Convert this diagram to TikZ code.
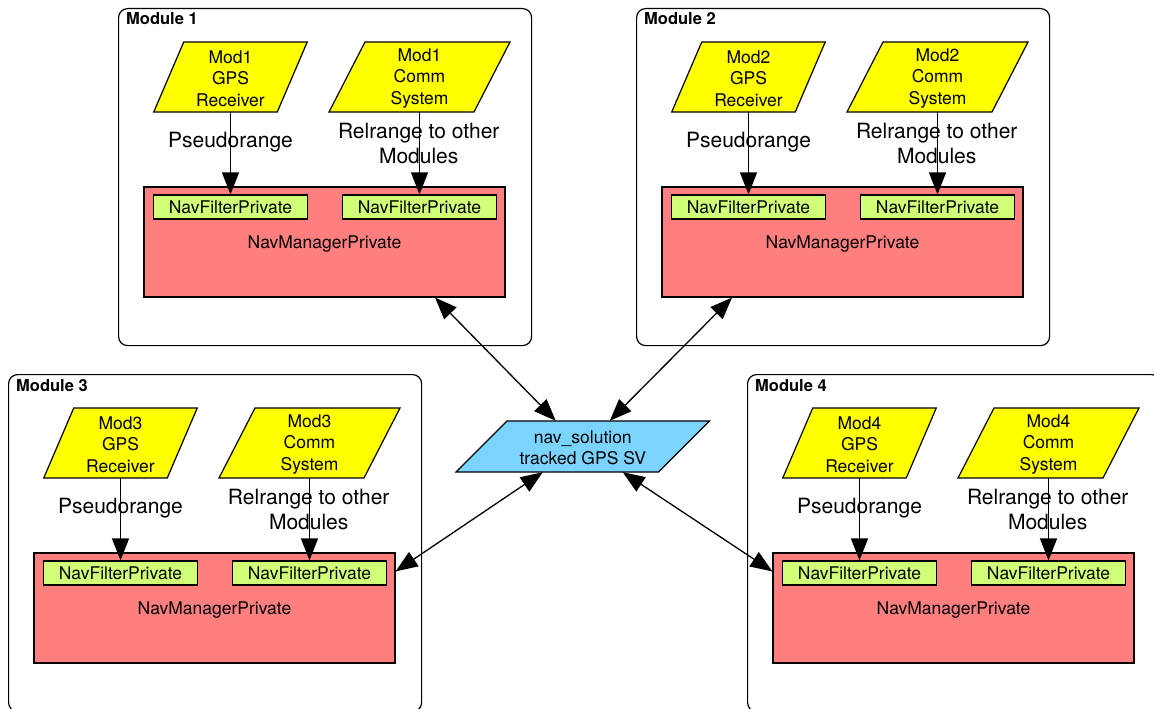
\documentclass[tikz,border=0pt]{standalone}
\usepackage{fontspec}
\setmainfont{TeX Gyre Heros}
\usetikzlibrary{arrows.meta,calc}

\definecolor{gpsyellow}{HTML}{FFFF00}
\definecolor{mgrred}{HTML}{FF7F7F}
\definecolor{filtgreen}{HTML}{D2FF78}
\definecolor{solblue}{HTML}{7AD4FF}

\tikzset{
  frame/.style={draw=black, line width=1.2pt, rounded corners=9pt,
    minimum width=413pt, minimum height=337pt, inner sep=0pt, anchor=north west},
  modtitle/.style={font=\fontsize{16.5}{19}\selectfont\bfseries, anchor=base west, inner sep=0pt},
  txt/.style={font=\fontsize{17.5}{21.5}\selectfont, align=center, inner sep=0pt},
  lbl/.style={font=\fontsize{21}{25}\selectfont, align=center, inner sep=0pt},
  mgr/.style={txt, draw, line width=1.2pt, fill=mgrred, minimum width=361pt, minimum height=110pt,
    text depth=0pt},
  filt/.style={txt, draw, line width=1.2pt, fill=filtgreen, minimum width=154pt, minimum height=24pt},
  flow/.style={line width=1.3pt, -{Triangle[length=22pt,width=17pt]}},
  link/.style={line width=1.3pt, {Triangle[length=22pt,width=17pt]}-{Triangle[length=22pt,width=17pt]}},
  parashape/.style={draw, line width=1.2pt},
}

% parallelogram: name, centre x, centre y, mid width, height, slant, fill, text
% (the text node sits 1.5pt low; its south side stays on the bottom edge,
%  its north side lies 3pt below the top edge)
\newcommand\paranode[8]{%
  \filldraw[parashape, fill=#7]
    (#2-#4/2-#6/2, #3+#5/2) -- (#2+#4/2-#6/2, #3+#5/2) --
    (#2+#4/2+#6/2, #3-#5/2) -- (#2-#4/2+#6/2, #3-#5/2) -- cycle;
  \node[txt, minimum width=#4pt, minimum height=#5pt-3pt] (#1) at (#2,#3+1.5) {#8};}

% one navigation module: number, left x, top y
\newcommand\navmodule[3]{%
  \begin{scope}[shift={(#2,#3)}]
    \node[frame] (mod#1) at (0,0) {};
    \node[modtitle] (title#1) at (8,17) {Module #1};
    \node[mgr] (red#1) at (206.5,234) {NavManagerPrivate};
    \node[filt] (nfa#1) at (112.5,199) {NavFilterPrivate};
    \node[filt] (nfb#1) at (301.5,199) {NavFilterPrivate};
    \paranode{gps#1}{112.5}{69}{123.5}{70}{30}{gpsyellow}{Mod#1\\GPS\\Receiver}
    \paranode{comm#1}{301.5}{69}{145}{70}{36}{gpsyellow}{Mod#1\\Comm\\System}
    \draw[flow] (gps#1.south) -- (nfa#1.north);
    \draw[flow] (comm#1.south) -- (nfb#1.north);
    \node[lbl, anchor=base] (pr#1) at (112.5,139.5) {Pseudorange};
    \node[lbl] (rr#1) at (300.7,135.5) {Relrange to other\\Modules};
  \end{scope}}

\begin{document}
\begin{tikzpicture}[x=1pt, y=-1pt]
  \path[use as bounding box, clip] (0,0) rectangle (1154,709);
  \fill[white] (0,0) rectangle (1154,709);

  \navmodule{1}{118}{8}
  \navmodule{2}{636}{8}
  \navmodule{3}{8}{374}
  \navmodule{4}{747}{374}

  \paranode{sol}{582.75}{446.5}{202.5}{51}{51}{solblue}{nav\_solution\\tracked GPS SV}

  \draw[link] ([xshift=-27pt,yshift=3pt]sol.north) -- ([xshift=110.5pt]red1.south);
  \draw[link] ([xshift=27pt,yshift=3pt]sol.north) -- ([xshift=-110.5pt]red2.south);
  \draw[link] ([xshift=-40pt]sol.south) -- ([yshift=-19pt]red3.north east);
  \draw[link] ([xshift=40pt]sol.south) -- ([yshift=-19pt]red4.north west);
\end{tikzpicture}
\end{document}
